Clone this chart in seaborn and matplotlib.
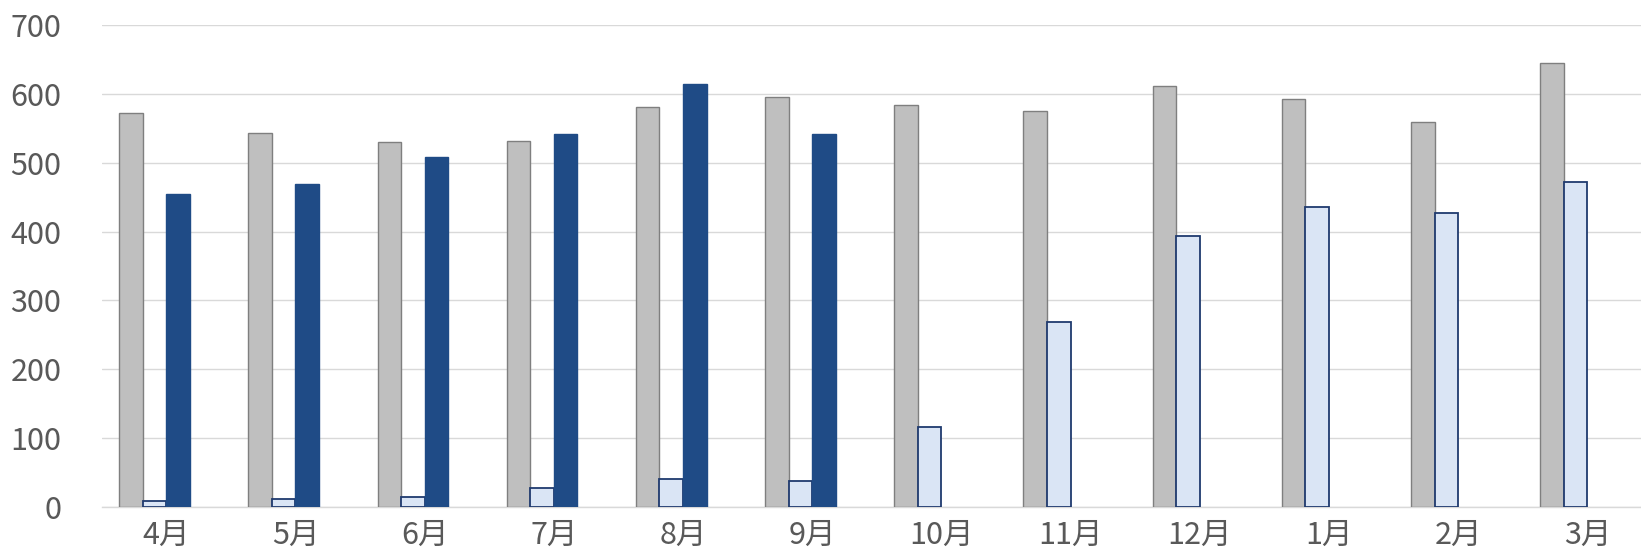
import numpy as np
import pandas as pd
import matplotlib
matplotlib.use("Agg")
import matplotlib.pyplot as plt
import seaborn as sns
from matplotlib.ticker import FixedLocator

# ---- data ----
months = ["4月", "5月", "6月", "7月", "8月", "9月",
          "10月", "11月", "12月", "1月", "2月", "3月"]
prev_year = [572, 543, 530, 531, 581, 595, 584, 575, 611, 593, 559, 645]
outlook = [9, 11, 14, 27, 41, 38, 116, 269, 393, 436, 427, 472]
actual = [455, 469, 509, 541, 615, 541, np.nan, np.nan, np.nan, np.nan, np.nan, np.nan]
spare = [np.nan] * 12
series_names = ["前年実績", "見込み", "今年実績", "予備"]
y_ticks = [0, 100, 200, 300, 400, 500, 600, 700]

colors = {"前年実績": "#BFBFBF", "見込み": "#DAE5F5", "今年実績": "#1F4B86", "予備": "#FFFFFF"}
edges = {"#BFBFBF": "#7F7F7F", "#DAE5F5": "#1F3A6E", "#1F4B86": "#1F4B86"}

df = pd.concat([
    pd.DataFrame({"month": months, "series": name, "value": vals})
    for name, vals in zip(series_names, [prev_year, outlook, actual, spare])
], ignore_index=True)

sns.set_theme(style="white")
plt.rcParams["font.family"] = ["Noto Sans CJK JP", "DejaVu Sans"]

W, H = 1641, 549
left_px, base_px, top_px = 101.7, 507, 25
fig = plt.figure(figsize=(W / 100, H / 100), dpi=100)
ax = fig.add_axes([left_px / W, (H - base_px) / H, 1 - left_px / W, (base_px - top_px) / H])

sns.barplot(data=df, x="month", y="value", hue="series", order=months,
            hue_order=series_names, palette=colors, width=0.73,
            errorbar=None, saturation=1, legend=False, ax=ax, zorder=3)

for p in ax.patches:
    fc = matplotlib.colors.to_hex(p.get_facecolor()).upper()
    if fc in edges:
        p.set_edgecolor(edges[fc])
        p.set_linewidth(1.0 if fc != "#DAE5F5" else 1.3)

ax.set_ylim(0, 700)
ax.set_xlim(-0.5, 11.5 - 11 / 129.1)
ax.yaxis.set_major_locator(FixedLocator(y_ticks))
ax.yaxis.grid(True, color="#D9D9D9", linewidth=1.0)
ax.set_axisbelow(True)

for s in ["left", "top", "right"]:
    ax.spines[s].set_visible(False)
ax.spines["bottom"].set_color("#D9D9D9")
ax.spines["bottom"].set_linewidth(1.0)

ax.xaxis.set_minor_locator(FixedLocator(np.arange(-0.5, 12, 1.0)))
ax.tick_params(axis="x", which="major", length=0, pad=9, labelsize=22, labelcolor="#595959")
ax.tick_params(axis="x", which="minor", length=60, width=1.0, color="#D9D9D9", direction="out")
ax.tick_params(axis="y", which="major", length=0, pad=29, labelsize=22, labelcolor="#595959")
ax.set_xlabel("")
ax.set_ylabel("")

fig.savefig("out.png", dpi=100, facecolor="white")
